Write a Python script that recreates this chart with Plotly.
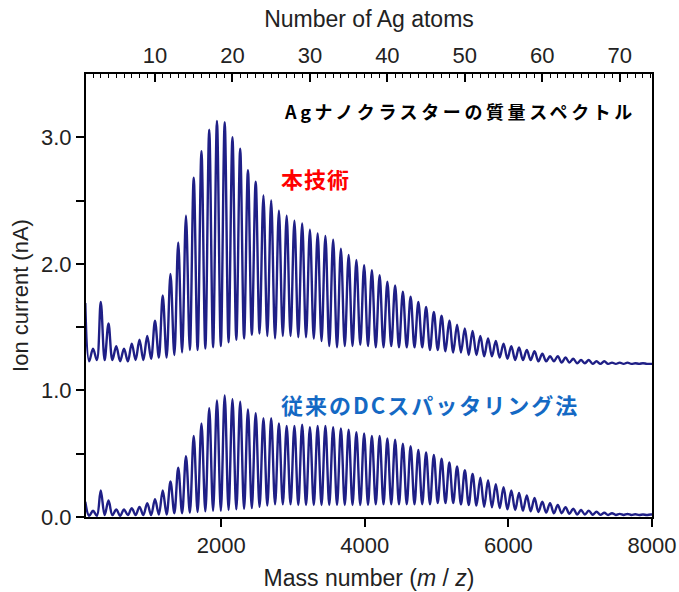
import plotly.graph_objects as go

AG_MASS = 107.87

# Cluster sizes (number of Ag atoms)
n_atoms = list(range(1, 75))

# Upper spectrum (本技術): peak heights at each cluster size, and minima between n and n+1 (nA)
upper_peaks = [1.69, 1.33, 1.70, 1.53, 1.35, 1.33, 1.37, 1.40, 1.43, 1.55,
               1.75, 1.92, 2.17, 2.38, 2.68, 2.89, 3.06, 3.13, 3.12, 3.00,
               2.91, 2.74, 2.65, 2.54, 2.50, 2.42, 2.38, 2.34, 2.32, 2.27,
               2.24, 2.22, 2.19, 2.12, 2.07, 2.03, 1.99, 1.95, 1.91, 1.86,
               1.83, 1.78, 1.74, 1.70, 1.66, 1.62, 1.59, 1.55, 1.52, 1.49,
               1.47, 1.43, 1.41, 1.39, 1.37, 1.35, 1.34, 1.32, 1.31, 1.29,
               1.27, 1.27, 1.26, 1.25, 1.24, 1.24, 1.23, 1.23, 1.22, 1.22,
               1.22, 1.215, 1.215, 1.21]
upper_valleys = [1.23, 1.24, 1.24, 1.24, 1.23, 1.23, 1.24, 1.24, 1.25, 1.26,
                 1.26, 1.28, 1.30, 1.32, 1.32, 1.33, 1.34, 1.35, 1.38, 1.40,
                 1.41, 1.44, 1.45, 1.43, 1.41, 1.43, 1.43, 1.42, 1.42, 1.41,
                 1.39, 1.35, 1.34, 1.35, 1.35, 1.36, 1.35, 1.34, 1.34, 1.35,
                 1.34, 1.34, 1.34, 1.34, 1.32, 1.32, 1.31, 1.30, 1.30, 1.28,
                 1.28, 1.27, 1.27, 1.26, 1.25, 1.24, 1.24, 1.24, 1.23, 1.23,
                 1.23, 1.22, 1.22, 1.215, 1.215, 1.21, 1.21, 1.21, 1.21, 1.21,
                 1.21, 1.21, 1.21, 1.21]

# Lower spectrum (従来のDCスパッタリング法)
lower_peaks = [0.12, 0.05, 0.21, 0.13, 0.06, 0.06, 0.07, 0.08, 0.11, 0.14,
               0.21, 0.28, 0.39, 0.48, 0.64, 0.74, 0.86, 0.92, 0.96, 0.93,
               0.91, 0.85, 0.82, 0.78, 0.78, 0.74, 0.72, 0.72, 0.73, 0.71,
               0.72, 0.72, 0.71, 0.70, 0.69, 0.67, 0.66, 0.64, 0.64, 0.62,
               0.61, 0.58, 0.56, 0.53, 0.51, 0.49, 0.46, 0.43, 0.40, 0.37,
               0.34, 0.31, 0.29, 0.26, 0.235, 0.21, 0.19, 0.17, 0.15, 0.12,
               0.11, 0.095, 0.077, 0.066, 0.055, 0.05, 0.042, 0.034, 0.03, 0.025,
               0.024, 0.022, 0.02, 0.02]
lower_valleys = [0.01, 0.01, 0.015, 0.015, 0.01, 0.015, 0.015, 0.015, 0.015, 0.02,
                 0.02, 0.03, 0.03, 0.035, 0.04, 0.045, 0.05, 0.05, 0.055, 0.06,
                 0.065, 0.07, 0.08, 0.09, 0.10, 0.10, 0.10, 0.095, 0.095, 0.095,
                 0.095, 0.095, 0.095, 0.095, 0.095, 0.095, 0.095, 0.10, 0.10, 0.10,
                 0.10, 0.10, 0.10, 0.10, 0.10, 0.11, 0.11, 0.11, 0.10, 0.095,
                 0.09, 0.08, 0.077, 0.07, 0.06, 0.055, 0.05, 0.045, 0.04, 0.035,
                 0.03, 0.03, 0.025, 0.02, 0.02, 0.018, 0.017, 0.016, 0.016, 0.016,
                 0.016, 0.016, 0.016, 0.016]

x_ticks = [2000, 4000, 6000, 8000]
y_ticks = [0, 0.5, 1.0, 1.5, 2.0, 2.5, 3.0]
y_ticktext = ["0.0", "", "1.0", "", "2.0", "", "3.0"]
top_ticks = [10, 20, 30, 40, 50, 60, 70]

label_title = "Agナノクラスターの質量スペクトル"
label_new = "本技術"
label_old = "従来のDCスパッタリング法"


def spectrum(peaks, valleys):
    xs, ys = [], []
    for n, p, v in zip(n_atoms, peaks, valleys):
        xs += [n * AG_MASS, (n + 0.5) * AG_MASS]
        ys += [p, v]
    return xs, ys


line_color = "#1f1f86"
FONT = "Liberation Sans, Arial, sans-serif"
CJK = "Noto Sans CJK JP"
FS = 22

fig = go.Figure()
for peaks, valleys in [(upper_peaks, upper_valleys), (lower_peaks, lower_valleys)]:
    xs, ys = spectrum(peaks, valleys)
    fig.add_trace(go.Scatter(x=xs, y=ys, mode="lines",
                             line=dict(color=line_color, width=2.4, shape="spline", smoothing=1.0),
                             showlegend=False, hoverinfo="skip"))

x_min, x_max = 118, 8000
fig.add_trace(go.Scatter(x=[x_min / AG_MASS, x_max / AG_MASS], y=[None, None],
                         xaxis="x2", yaxis="y", mode="lines", showlegend=False))

fig.update_layout(
    width=679, height=592,
    margin=dict(l=86, r=27, t=74, b=75),
    paper_bgcolor="white", plot_bgcolor="white",
    font=dict(family=FONT, size=FS, color="#222"),
    xaxis=dict(range=[x_min, x_max], tickvals=x_ticks, ticks="outside", ticklen=8,
               tickwidth=2, tickcolor="black", showline=True, linewidth=2, linecolor="black",
               showgrid=False, zeroline=False, automargin=False,
               tickfont=dict(size=FS, family=FONT),
               title=dict(text="Mass number (<i>m</i> / <i>z</i>)", font=dict(size=FS + 1, family=FONT), standoff=12)),
    xaxis2=dict(overlaying="x", side="top", range=[x_min / AG_MASS, x_max / AG_MASS],
                tickvals=top_ticks, ticks="inside", ticklen=8, tickwidth=1.5, tickcolor="black",
                minor=dict(dtick=1, tick0=0, ticks="inside", ticklen=4, tickwidth=1.2, tickcolor="black"),
                showline=True, linewidth=2, linecolor="black", showgrid=False, zeroline=False,
                automargin=False, tickfont=dict(size=FS, family=FONT),
                title=dict(text="Number of Ag atoms", font=dict(size=FS + 1, family=FONT), standoff=9)),
    yaxis=dict(range=[0, 3.5], tickvals=y_ticks, ticktext=y_ticktext, ticks="outside",
               ticklen=8, tickwidth=2, tickcolor="black", showline=True, linewidth=2,
               linecolor="black", mirror=True, showgrid=False, zeroline=False, automargin=False,
               tickfont=dict(size=FS, family=FONT),
               title=dict(text="Ion current (nA)", font=dict(size=FS, family=FONT), standoff=6)),
)

fig.add_annotation(x=7800, y=3.21, xref="x", yref="y", xanchor="right", yanchor="middle",
                   text="<b><span style='letter-spacing:3.6px'>" + label_title + "</span></b>",
                   showarrow=False, font=dict(family=CJK, size=18, color="black"))
fig.add_annotation(x=2810, y=2.68, xref="x", yref="y", xanchor="left", yanchor="middle",
                   text="<b><span style='letter-spacing:1px'>" + label_new + "</span></b>", showarrow=False,
                   font=dict(family=CJK, size=22, color="#ff0000"))
fig.add_annotation(x=2810, y=0.895, xref="x", yref="y", xanchor="left", yanchor="middle",
                   text="<b><span style='letter-spacing:2px'>" + label_old + "</span></b>", showarrow=False,
                   font=dict(family=CJK, size=22, color="#1469c4"))

fig.write_html("out.html", config={"displayModeBar": False},
               post_script="document.body.style.margin='0';document.body.style.overflow='hidden';")
